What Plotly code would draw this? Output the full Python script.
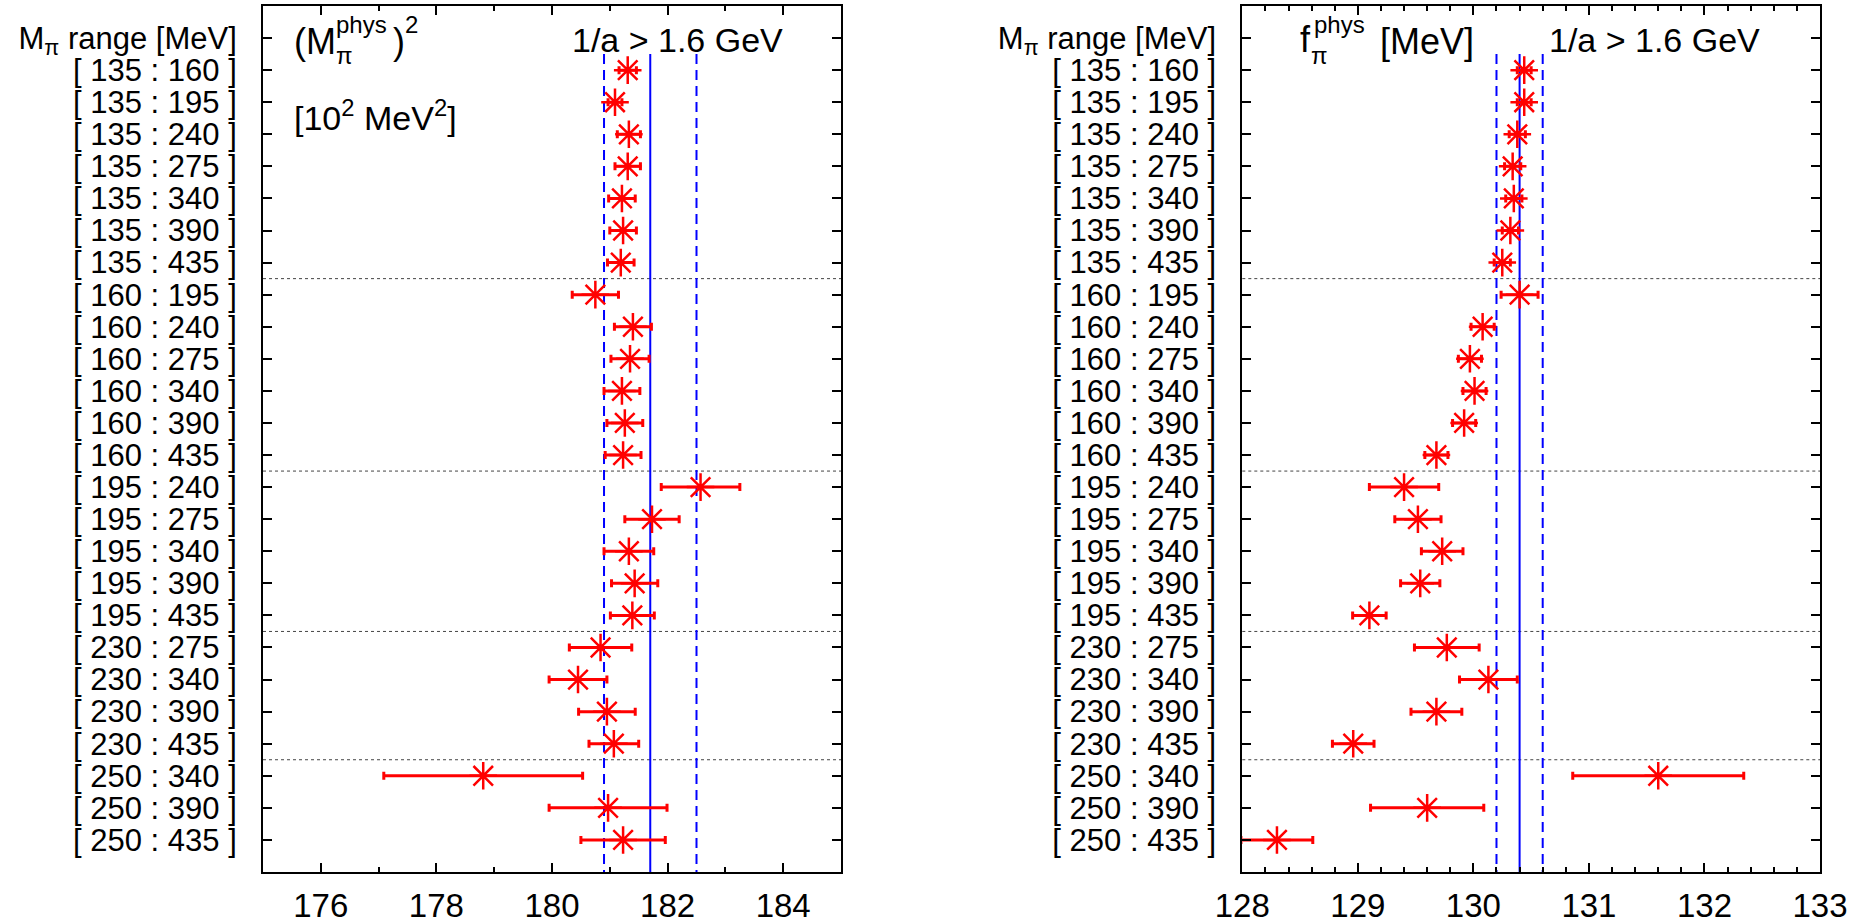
import plotly.graph_objects as go

W, H = 1866, 924

# ---------------- data ----------------
range_lo = [135]*7 + [160]*6 + [195]*5 + [230]*4 + [250]*3
range_hi = [160, 195, 240, 275, 340, 390, 435,
            195, 240, 275, 340, 390, 435,
            240, 275, 340, 390, 435,
            275, 340, 390, 435,
            340, 390, 435]
header_label = "M<sub>π</sub> range [MeV]"

mpi2 = [181.31, 181.09, 181.33, 181.31, 181.21, 181.23, 181.19,
        180.75, 181.40, 181.35, 181.21, 181.26, 181.23,
        182.57, 181.73, 181.33, 181.43, 181.39,
        180.84, 180.45, 180.95, 181.07,
        178.81, 180.97, 181.23]
mpi2_err = [0.15, 0.12, 0.20, 0.22, 0.23, 0.23, 0.23,
            0.40, 0.32, 0.33, 0.31, 0.31, 0.31,
            0.68, 0.47, 0.43, 0.40, 0.38,
            0.54, 0.50, 0.49, 0.43,
            1.72, 1.02, 0.73]
mpi2_ref, mpi2_ref_err = 181.70, 0.80

fpi = [130.44, 130.44, 130.38, 130.34, 130.35, 130.32, 130.25,
       130.40, 130.08, 129.97, 130.01, 129.92, 129.68,
       129.40, 129.52, 129.73, 129.54, 129.10,
       129.77, 130.13, 129.68, 128.96,
       131.60, 129.60, 128.30]
fpi_err = [0.06, 0.06, 0.07, 0.07, 0.07, 0.07, 0.07,
           0.16, 0.10, 0.10, 0.10, 0.10, 0.10,
           0.30, 0.20, 0.18, 0.17, 0.145,
           0.28, 0.25, 0.22, 0.18,
           0.74, 0.49, 0.31]
fpi_ref, fpi_ref_err = 130.40, 0.20

x1_range, x1_ticks = [175, 185], [176, 178, 180, 182, 184]
x2_range, x2_ticks = [128, 133], [128, 129, 130, 131, 132, 133]

# -------------------------------------
labels = [f"[ {lo} : {hi} ]" for lo, hi in zip(range_lo, range_hi)]
ypos = list(range(1, len(labels) + 1))
tickvals = [0] + ypos
ticktext = [header_label] + labels
seps = [i + 0.5 for i in range(1, len(range_lo)) if range_lo[i] != range_lo[i - 1]]

FONT = "Liberation Sans"
RED, BLUE = "#ff0000", "#0000ff"

fig = go.Figure()
for xs, es, xa, ya in [(mpi2, mpi2_err, "x", "y"), (fpi, fpi_err, "x2", "y2")]:
    fig.add_trace(go.Scatter(
        x=xs, y=ypos, mode="markers", xaxis=xa, yaxis=ya, showlegend=False,
        marker=dict(symbol="asterisk", size=23, color=RED,
                    line=dict(color=RED, width=2.5)),
        error_x=dict(type="data", array=es, color=RED, thickness=3, width=4),
    ))

shapes = []
for xa, ya, ref, err in [("x", "y", mpi2_ref, mpi2_ref_err), ("x2", "y2", fpi_ref, fpi_ref_err)]:
    for s in seps:
        shapes.append(dict(type="line", xref=f"{xa} domain", yref=ya, x0=0, x1=1, y0=s, y1=s,
                           line=dict(color="#444444", width=1, dash="dot"), layer="below"))
    shapes.append(dict(type="line", xref=xa, yref=ya, x0=ref, x1=ref, y0=0.5, y1=26,
                       line=dict(color=BLUE, width=2), layer="below"))
    for v in (ref - err, ref + err):
        shapes.append(dict(type="line", xref=xa, yref=ya, x0=v, x1=v, y0=0.5, y1=26,
                           line=dict(color=BLUE, width=2, dash="10px,6px"), layer="below"))

ydom = [1 - 872 / H, 1 - 6 / H]
common_x = dict(showgrid=False, zeroline=False, showline=True, linecolor="black", linewidth=2,
                mirror="allticks", ticks="inside", ticklen=9, tickwidth=1.5, tickcolor="black",
                tickfont=dict(family=FONT, size=33, color="black"), ticklabelstandoff=3,
                automargin=False)
common_y = dict(showgrid=False, zeroline=False, showline=True, linecolor="black", linewidth=2,
                mirror="allticks", ticks="inside", ticklen=9, tickwidth=1.5, tickcolor="black",
                tickfont=dict(family=FONT, size=31, color="black"), ticklabelstandoff=18,
                range=[26, -1], tickmode="array", tickvals=tickvals, ticktext=ticktext,
                automargin=False, domain=ydom)

fig.update_layout(
    width=W, height=H, margin=dict(l=0, r=0, t=0, b=0),
    paper_bgcolor="white", plot_bgcolor="white",
    font=dict(family=FONT, color="black"),
    xaxis=dict(common_x, domain=[263 / W, 841 / W], range=x1_range, tickmode="array",
               tickvals=x1_ticks, anchor="y",
               minor=dict(dtick=1, ticks="inside", ticklen=5, tickcolor="black", tickwidth=1.5)),
    yaxis=dict(common_y, anchor="x"),
    xaxis2=dict(common_x, domain=[1242.3 / W, 1820 / W], range=x2_range, tickmode="array",
                tickvals=x2_ticks, anchor="y2",
                minor=dict(dtick=0.2, ticks="inside", ticklen=5, tickcolor="black", tickwidth=1.5)),
    yaxis2=dict(common_y, anchor="x2"),
    shapes=shapes,
)

def ann(text, px, py, size, xanchor="left"):
    fig.add_annotation(text=text, x=px / W, y=1 - py / H, xref="paper", yref="paper",
                       xanchor=xanchor, yanchor="middle", showarrow=False,
                       font=dict(family=FONT, size=size, color="black"))

# left panel texts
ann("(M", 292, 42, 36)
ann("phys", 334, 25, 24)
ann("π", 334, 56, 24)
ann(")", 391, 42, 36)
ann("2", 403, 25, 24)
ann("[10<sup>2</sup> MeV<sup>2</sup>]", 292, 115, 34)
ann("1/a > 1.6 GeV", 570, 40, 34)
# right panel texts
ann("f", 1298, 40, 36)
ann("phys", 1312, 25, 24)
ann("π", 1309, 56, 24)
ann("[MeV]", 1378, 42, 36)
ann("1/a > 1.6 GeV", 1547, 40, 34)

fig.write_html("out.html")
